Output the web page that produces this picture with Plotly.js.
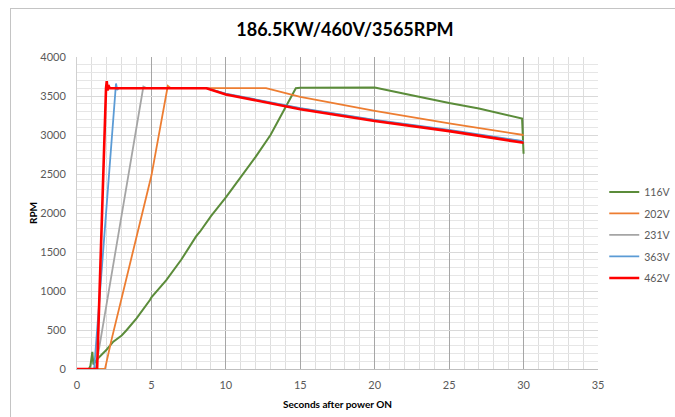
<!DOCTYPE html>
<html>
<head>
<meta charset="utf-8">
<script src="https://cdn.plot.ly/plotly-3.0.1.min.js"></script>
<style>
  html, body { margin: 0; padding: 0; background: #fff; }
  #chart { width: 675px; height: 417px; position: relative; }
  #frame { position: absolute; left: 10px; top: 8px; width: 700px; height: 500px;
           border-left: 1px solid #c4c4c4; border-top: 1px solid #c4c4c4; pointer-events: none; }
  #wrap { position: relative; width: 675px; height: 417px; overflow: hidden; }
</style>
</head>
<body>
<div id="wrap">
  <div id="chart"></div>
  <div id="frame"></div>
</div>
<script>
// ---- data ----
const seriesNames = ["116V", "202V", "231V", "363V", "462V"];

const t116 = [0, 0.8, 0.9, 1.03, 1.1, 1.2, 1.3, 2.0, 2.44, 3.0, 3.34, 4.0, 4.9, 5.0, 6.0, 7.0, 8.0, 8.26, 9.0, 10.0, 11.0, 12.0, 13.0, 14.0, 14.7, 15.0, 17.0, 20.0, 22.0, 25.0, 27.0, 29.85, 29.9, 30.0];
const r116 = [0, 0, 40, 220, 60, 80, 115, 250, 350, 430, 500, 650, 885, 920, 1140, 1400, 1700, 1760, 1960, 2200, 2460, 2720, 3000, 3360, 3600, 3605, 3610, 3610, 3530, 3410, 3340, 3215, 3210, 2760];

const t202 = [0, 1.88, 2.3, 3.0, 4.0, 5.0, 6.1, 6.3, 8.7, 12.7, 15.0, 20.0, 25.0, 30.0];
const r202 = [0, 0, 360, 900, 1680, 2480, 3630, 3600, 3600, 3600, 3490, 3310, 3150, 3000];

const t231 = [0, 1.25, 4.46, 4.7, 8.7, 10.0, 15.0, 20.0, 25.0, 30.0];
const r231 = [0, 0, 3620, 3600, 3600, 3525, 3340, 3190, 3060, 2915];

const t363 = [0, 1.15, 2.62, 2.7, 2.8, 8.7, 10.0, 15.0, 20.0, 25.0, 30.0];
const r363 = [0, 0, 3660, 3580, 3600, 3600, 3530, 3345, 3195, 3065, 2920];

const t462 = [0, 1.35, 1.95, 2.0, 2.05, 2.1, 2.2, 8.7, 10.0, 15.0, 20.0, 25.0, 30.0];
const r462 = [0, 0, 3600, 3690, 3570, 3640, 3600, 3600, 3520, 3330, 3180, 3050, 2900];

const seriesT = [t116, t202, t231, t363, t462];
const seriesR = [r116, r202, r231, r363, r462];
const colors = ["#5B8C3A", "#ED7D31", "#A5A5A5", "#5B9BD5", "#FF0000"];
const widths = [2, 1.8, 1.8, 1.8, 2.6];

const xTicks = [0, 5, 10, 15, 20, 25, 30, 35];
const yTicks = [0, 500, 1000, 1500, 2000, 2500, 3000, 3500, 4000];

const traces = seriesNames.map((n, i) => ({
  x: seriesT[i], y: seriesR[i], name: n, type: "scatter", mode: "lines",
  legendgroup: "g" + i,
  line: { color: colors[i], width: widths[i] }
}));

const tickFont = { family: "Lato, 'Open Sans', sans-serif", size: 11, color: "#595959" };
const legendFont = { family: "Lato, 'Open Sans', sans-serif", size: 10.5, color: "#595959" };

const layout = {
  width: 675, height: 417,
  margin: { l: 77, r: 77, t: 57, b: 48, autoexpand: false },
  paper_bgcolor: "#ffffff", plot_bgcolor: "#ffffff",
  title: { text: "<b>186.5KW/460V/3565RPM</b>", x: 0.511, xanchor: "center", y: 0.928, yanchor: "middle",
           font: { family: "Lato, 'Open Sans', sans-serif", size: 18, color: "#000000" } },
  showlegend: true,
  legend: { x: 1.012, xanchor: "left", y: 0.614, yanchor: "top", font: legendFont,
            bgcolor: "rgba(0,0,0,0)", tracegroupgap: 2.5, itemwidth: 30 },
  xaxis: {
    range: [0, 35], tickvals: xTicks, ticktext: xTicks.map(String),
    showgrid: true, gridcolor: "#a6a6a6", gridwidth: 1,
    minor: { dtick: 1, showgrid: true, gridcolor: "#dedede", gridwidth: 1 },
    zeroline: false, showline: true, linecolor: "#bfbfbf", linewidth: 1, mirror: false,
    ticks: "", tickfont: tickFont, ticklabelstandoff: 6,
    title: { text: "<b>Seconds after power ON</b>", font: { family: "Lato, 'Open Sans', sans-serif", size: 10, color: "#000" }, standoff: 10 }
  },
  yaxis: {
    range: [0, 4000], tickvals: yTicks, ticktext: yTicks.map(String),
    showgrid: true, gridcolor: "#d9d9d9", gridwidth: 1,
    minor: { dtick: 100, showgrid: true, gridcolor: "#e6e6e6", gridwidth: 1 },
    zeroline: false, showline: true, linecolor: "#d0d0d0", linewidth: 1,
    ticks: "", tickfont: tickFont, ticklabelstandoff: 8,
    title: { text: "<b>RPM</b>", font: { family: "Lato, 'Open Sans', sans-serif", size: 10, color: "#000" }, standoff: 0 }
  }
};

Plotly.newPlot("chart", traces, layout, { displayModeBar: false, staticPlot: true });
</script>
</body>
</html>
